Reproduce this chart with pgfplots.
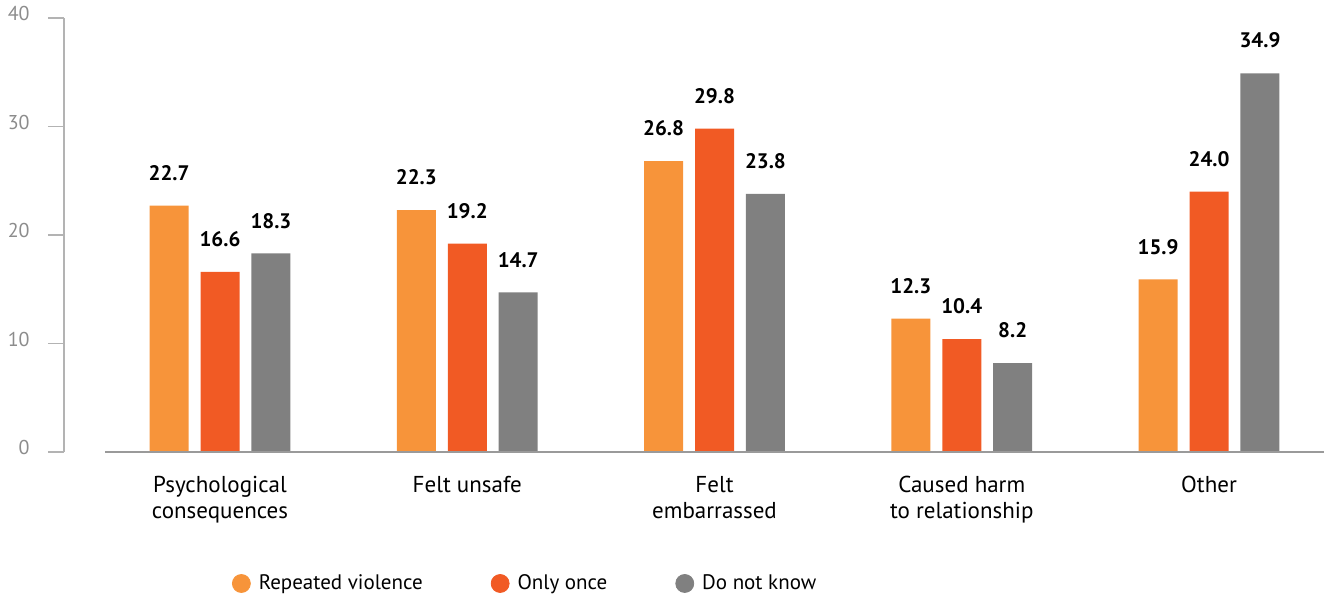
\documentclass[border=0pt]{standalone}
\usepackage{pgfplots}
\pgfplotsset{compat=1.18}
\usepackage{fontspec}
\setmainfont{PT Sans}

\definecolor{repeated}{HTML}{F7943A}
\definecolor{once}{HTML}{F15A24}
\definecolor{dontknow}{HTML}{808080}
\definecolor{ticktext}{HTML}{8C8C8C}
\definecolor{axisline}{HTML}{B3B3B3}
\definecolor{baseaxis}{HTML}{9A9A9A}

\begin{document}
\begin{tikzpicture}
\begin{axis}[
  scale only axis,
  width=630pt, height=217pt,
  xmin=-0.631, xmax=4.465,
  ymin=0, ymax=40,
  axis y line=left,
  axis x line=bottom,
  x axis line style={draw=none},
  y axis line style={-, draw=axisline, line width=0.6pt},
  ytick={0,10,20,30,40},
  tick align=outside,
  major tick length=8pt,
  ytick style={draw=axisline, line width=0.6pt},
  xtick style={draw=none},
  yticklabel style={text=ticktext, font=\fontsize{10}{12}\selectfont, inner sep=0pt, xshift=-9pt, yshift=2pt},
  /pgf/number format/assume math mode=true,
  xtick={0,1,2,3,4},
  xticklabels={Psychological\\consequences, Felt unsafe, Felt\\embarrassed, Caused harm\\to relationship, Other},
  xticklabel style={align=center, font=\fontsize{11.5}{13}\selectfont, text=black, yshift=-0.5pt},
  clip=false,
  legend columns=3,
  legend style={draw=none, fill=none, at={(axis description cs:0.133,-0.303)}, anchor=west,
    font=\fontsize{10.5}{12}\selectfont, inner sep=0pt,
    /tikz/every odd column/.append style={column sep=2pt},
    /tikz/every even column/.append style={column sep=32pt}},
  bar width=19.5pt,
  nodes near coords={\pgfmathprintnumber[fixed,fixed zerofill,precision=1,assume math mode=true]{\pgfplotspointmeta}},
  every node near coord/.append style={font=\fontsize{10.5}{12}\selectfont\bfseries, text=black, yshift=9pt},
]
% legend markers: filled circles
\addlegendimage{legend image code/.code={\fill[repeated] (0.2cm,0pt) circle (4.5pt);}}
\addlegendentry{Repeated violence}
\addlegendimage{legend image code/.code={\fill[once] (0.2cm,0pt) circle (4.5pt);}}
\addlegendentry{Only once}
\addlegendimage{legend image code/.code={\fill[dontknow] (0.2cm,0pt) circle (4.5pt);}}
\addlegendentry{Do not know}

% bars, each series placed beside the category centre
\addplot[ybar, forget plot, fill=repeated, draw=none, bar shift=0pt]
  coordinates {(-0.206,22.7) (0.794,22.3) (1.794,26.8) (2.794,12.3) (3.794,15.9)};
\addplot[ybar, forget plot, fill=once, draw=none, bar shift=0pt]
  coordinates {(0,16.6) (1,19.2) (2,29.8) (3,10.4) (4,24.0)};
\addplot[ybar, forget plot, fill=dontknow, draw=none, bar shift=0pt]
  coordinates {(0.206,18.3) (1.206,14.7) (2.206,23.8) (3.206,8.2) (4.206,34.9)};

% category baseline
\draw[draw=baseaxis, line width=0.9pt] (axis cs:-0.465,0) -- (axis cs:4.465,0);
\end{axis}
% fixed page frame around the plot area
\pgfresetboundingbox
\useasboundingbox ([xshift=-32pt,yshift=-72.5pt]current axis.south west) rectangle ([yshift=9pt]current axis.north east);
\end{tikzpicture}
\end{document}
